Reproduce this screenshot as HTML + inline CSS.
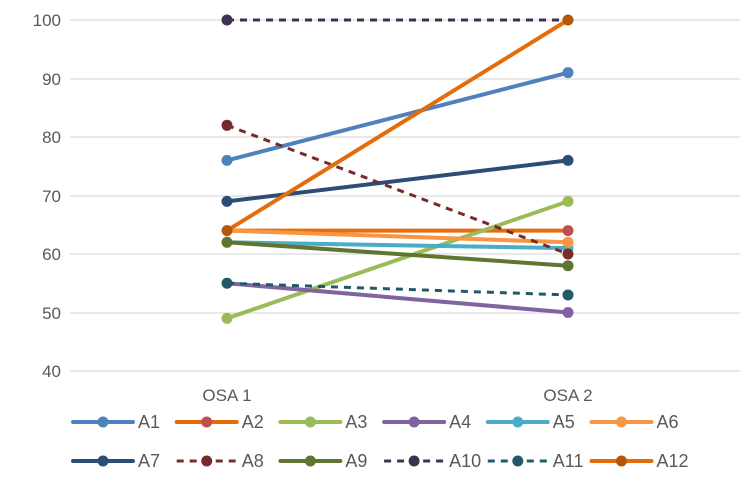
<!DOCTYPE html><html><head><style>body{margin:0;background:#fff}svg{display:block}text{font-family:"Liberation Sans",sans-serif;fill:#595959}</style></head><body>
<svg width="748" height="478" xmlns="http://www.w3.org/2000/svg">
<g stroke="#d9d9d9" stroke-width="1.3">
<line x1="70" x2="740" y1="20" y2="20"/><line x1="70" x2="740" y1="79" y2="79"/><line x1="70" x2="740" y1="137" y2="137"/><line x1="70" x2="740" y1="196" y2="196"/><line x1="70" x2="740" y1="254" y2="254"/><line x1="70" x2="740" y1="313" y2="313"/><line x1="70" x2="740" y1="371" y2="371"/></g>
<g font-size="17" text-anchor="end"><text x="61" y="26">100</text><text x="61" y="85">90</text><text x="61" y="143">80</text><text x="61" y="202">70</text><text x="61" y="260">60</text><text x="61" y="319">50</text><text x="61" y="377">40</text></g>
<g font-size="17" text-anchor="middle"><text x="227" y="401">OSA 1</text><text x="568" y="401">OSA 2</text></g>
<g stroke-width="4" stroke-linecap="round" fill="none">
<line x1="227" y1="160.4" x2="568" y2="72.65" stroke="#4f81bd"/>
<line x1="227" y1="230.6" x2="568" y2="230.6" stroke="#e46c0a"/>
<line x1="227" y1="318.35" x2="568" y2="201.35" stroke="#9bbb59"/>
<line x1="227" y1="283.25" x2="568" y2="312.5" stroke="#8064a2"/>
<line x1="227" y1="242.3" x2="568" y2="248.15" stroke="#4bacc6"/>
<line x1="227" y1="230.6" x2="568" y2="242.3" stroke="#f79646"/>
<line x1="227" y1="201.35" x2="568" y2="160.4" stroke="#2c4d75"/>
<line x1="227" y1="125.3" x2="568" y2="254" stroke="#772c2a" stroke-width="3" stroke-dasharray="7 6" stroke-linecap="butt"/>
<line x1="227" y1="242.3" x2="568" y2="265.7" stroke="#5f7530"/>
<line x1="227" y1="20" x2="568" y2="20" stroke="#3f3151" stroke-width="3" stroke-dasharray="7 6" stroke-linecap="butt"/>
<line x1="227" y1="283.25" x2="568" y2="294.95" stroke="#215968" stroke-width="3" stroke-dasharray="7 6" stroke-linecap="butt"/>
<line x1="227" y1="230.6" x2="568" y2="20" stroke="#e46c0a"/>
</g>
<g>
<circle cx="227" cy="160.4" r="5.5" fill="#4f81bd"/><circle cx="568" cy="72.65" r="5.5" fill="#4f81bd"/>
<circle cx="568" cy="230.6" r="5.5" fill="#c0504d"/>
<circle cx="227" cy="318.35" r="5.5" fill="#9bbb59"/><circle cx="568" cy="201.35" r="5.5" fill="#9bbb59"/>
<circle cx="568" cy="312.5" r="5.5" fill="#8064a2"/>
<circle cx="568" cy="248.15" r="5.5" fill="#4bacc6"/>
<circle cx="568" cy="242.3" r="5.5" fill="#f79646"/>
<circle cx="227" cy="201.35" r="5.5" fill="#2c4d75"/><circle cx="568" cy="160.4" r="5.5" fill="#2c4d75"/>
<circle cx="227" cy="125.3" r="5.5" fill="#772c2a"/><circle cx="568" cy="254" r="5.5" fill="#772c2a"/>
<circle cx="227" cy="242.3" r="5.5" fill="#5f7530"/><circle cx="568" cy="265.7" r="5.5" fill="#5f7530"/>
<circle cx="227" cy="20" r="5.5" fill="#3f3151"/><circle cx="568" cy="20" r="5.5" fill="#b65708"/>
<circle cx="227" cy="283.25" r="5.5" fill="#215968"/><circle cx="568" cy="294.95" r="5.5" fill="#215968"/>
<circle cx="227" cy="230.6" r="5.5" fill="#b65708"/>
</g>
<g stroke-width="4" stroke-linecap="round">
<line x1="73" x2="133" y1="422" y2="422" stroke="#4f81bd"/><circle cx="103" cy="422" r="5.5" fill="#4f81bd"/>
<line x1="176.7" x2="236.7" y1="422" y2="422" stroke="#e46c0a"/><circle cx="206.7" cy="422" r="5.5" fill="#c0504d"/>
<line x1="280.4" x2="340.4" y1="422" y2="422" stroke="#9bbb59"/><circle cx="310.4" cy="422" r="5.5" fill="#9bbb59"/>
<line x1="384.1" x2="444.1" y1="422" y2="422" stroke="#8064a2"/><circle cx="414.1" cy="422" r="5.5" fill="#8064a2"/>
<line x1="487.8" x2="547.8" y1="422" y2="422" stroke="#4bacc6"/><circle cx="517.8" cy="422" r="5.5" fill="#4bacc6"/>
<line x1="591.5" x2="651.5" y1="422" y2="422" stroke="#f79646"/><circle cx="621.5" cy="422" r="5.5" fill="#f79646"/>
<line x1="73" x2="133" y1="461" y2="461" stroke="#2c4d75"/><circle cx="103" cy="461" r="5.5" fill="#2c4d75"/>
<line x1="176.7" x2="236.7" y1="461" y2="461" stroke="#772c2a" stroke-width="3" stroke-dasharray="7 6" stroke-linecap="butt"/><circle cx="206.7" cy="461" r="5.5" fill="#772c2a"/>
<line x1="280.4" x2="340.4" y1="461" y2="461" stroke="#5f7530"/><circle cx="310.4" cy="461" r="5.5" fill="#5f7530"/>
<line x1="384.1" x2="444.1" y1="461" y2="461" stroke="#3f3151" stroke-width="3" stroke-dasharray="7 6" stroke-linecap="butt"/><circle cx="414.1" cy="461" r="5.5" fill="#3f3151"/>
<line x1="487.8" x2="547.8" y1="461" y2="461" stroke="#215968" stroke-width="3" stroke-dasharray="7 6" stroke-linecap="butt"/><circle cx="517.8" cy="461" r="5.5" fill="#215968"/>
<line x1="591.5" x2="651.5" y1="461" y2="461" stroke="#e46c0a"/><circle cx="621.5" cy="461" r="5.5" fill="#b65708"/>
</g>
<g font-size="18">
<text x="138" y="428">A1</text><text x="241.7" y="428">A2</text><text x="345.4" y="428">A3</text><text x="449.1" y="428">A4</text><text x="552.8" y="428">A5</text><text x="656.5" y="428">A6</text>
<text x="138" y="467">A7</text><text x="241.7" y="467">A8</text><text x="345.4" y="467">A9</text><text x="449.1" y="467">A10</text><text x="552.8" y="467">A11</text><text x="656.5" y="467">A12</text>
</g>
</svg></body></html>
